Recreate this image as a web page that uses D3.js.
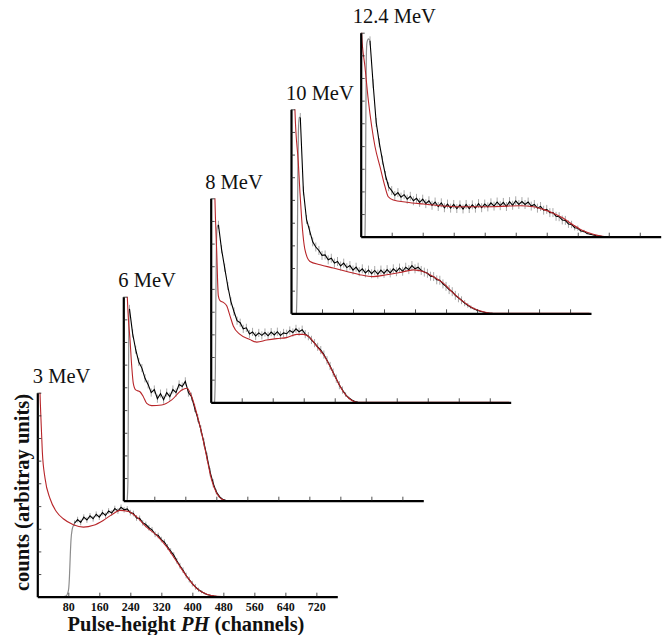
<!DOCTYPE html>
<html><head><meta charset="utf-8">
<script src="https://cdn.jsdelivr.net/npm/d3@7"></script>
<style>body{margin:0;background:#fff}svg{display:block}</style>
</head><body>
<svg id="c" width="667" height="635"></svg>
<script>
// ---------------- DATA ----------------
const energyLabels = ["3 MeV", "6 MeV", "8 MeV", "10 MeV", "12.4 MeV"];
const xTickValues = [80, 160, 240, 320, 400, 480, 560, 640, 720];
const yTickValues = [11.1, 22.2, 33.3, 44.4, 55.6, 66.7, 77.8, 88.9, 100];
const binStep = 8; // channels per plotted data bin

// simulated (red) response, [channel, counts]
const sim3 = [[4,130],[7,100],[9.5,87],[13,71],[20,58],[33,48],[50,41.5],[67,38.2],[93,35.3],[119,34.1],[145,35],[170,37.4],[196,40.7],[213,42.3],[235,41.8],[257,39],[282,34.1],[308,30.1],[334,24.4],[360,17.1],[386,9.8],[411,4.1],[437,1.2],[463,0.2],[490,0],[770,0]];
const sim6 = [[6,130],[10.3,100],[12.9,90],[17.3,79],[21.7,66],[25.8,57.5],[32,54.3],[43,53.4],[51.6,51],[60.4,47.7],[73,46.6],[99,46.9],[125,49.4],[151,54.3],[164,55.1],[176.5,51],[189.4,42.8],[202.3,33],[215,21.6],[228,10.1],[241,3.6],[254,0.7],[267,0],[770,0]];
const sim8 = [[8,130],[11,99],[15.5,74],[19.6,52.3],[24,49.8],[32.5,49],[41.3,47.3],[49.8,42.4],[58.3,37.4],[75.6,33.3],[101,30.8],[119,29.5],[144.5,30.5],[170,31.2],[196,31.7],[222,33.3],[239,33.3],[256,31.7],[273.5,27.5],[290.6,23.4],[308,17.6],[325,11],[342,5.2],[359.5,1.5],[377,0],[770,0]];
const sim10 = [[7,130],[10.3,99],[18.8,74],[23.2,59],[27.6,46],[36,31.2],[49,25.4],[75,23.8],[109,22.2],[144,20.5],[178,18.9],[212,18],[247,18.9],[281,20],[315.6,21.3],[341,20.5],[367,18],[393,14.8],[419,9.9],[444.6,5.7],[470,2.5],[496,0.8],[522,0],[770,0]];
const sim124 = [[1,125],[2.6,99],[11,83.3],[19.6,67],[28.4,54],[37,44.1],[49.8,34.3],[62.7,24.5],[71.2,19.6],[84,18],[118.7,16.9],[161.5,16],[204.6,15.2],[247.7,14.7],[290.6,14.7],[333.7,14.7],[376.8,15],[411,15.2],[445.4,14.7],[471,13.4],[497,11.5],[523,9],[548.6,5.7],[574.4,2.9],[600,1.2],[635,0],[770,0]];

// measured threshold rise (grey), [channel, counts]
const rise3 = [[68,0],[74,0.3],[78,1.5],[81,4],[83,10],[85,20],[87,28],[90,33],[94,35.2],[96,36]];
const rise6 = [[10,0],[12,10],[13,45],[14,80],[15,92],[16,94]];
const rise8 = [[10,0],[12,15],[13.5,55],[15,80],[17,86],[20,87]];
const rise10 = [[14,0],[16,20],[17.5,65],[19,88],[21,96],[24,96]];
const rise124 = [[11,0],[12.5,25],[13.5,65],[14.5,88],[16,95],[20,97],[24,96]];

// measured spectra (black), one value per 8-channel bin starting at expStart
const expStart = [96, 16, 20, 24, 24];
const exp3 = [36.0,37.8,36.4,39.0,37.6,39.6,38.2,40.4,39.0,41.2,39.8,42.0,41.0,43.2,42.0,43.8,42.6,43.0,41.2,40.8,38.6,38.4,36.2,35.4,33.8,32.8,30.6,30.0,28.0,26.8,24.4,22.4,20.4,17.6,15.2,13.0,10.4,8.4,6.4,4.8,3.4,2.4,1.6,1.0,0.6,0.3,0.1,0];
const exp6 = [94,82,74,68,65,60,57,53,54.5,50,52.5,49.5,53,51,54.5,53,57,56,58.5,53,51,45.5,40.5,35,28.5,21.5,14,8.5,4.3,2,0.7,0.2,0];
const exp8 = [87,75,66,57,49.5,44.5,40,39,36,36.5,33.5,34.5,32.5,34,32.8,34.2,32.6,34.4,33,34.6,32.8,34,33.6,35.2,34.2,36,34.6,35.6,33.4,32.4,30.6,29,27.2,25.6,23.4,20.6,17.8,14.6,11.6,8.4,6,3.8,2.2,1.1,0.4,0];
const exp10 = [96,60,46,40.5,35,32.5,30.8,28.4,28.6,26.2,27,24.6,25.4,23.2,24.6,22.4,23.4,21.2,22.6,20.4,21.8,19.8,21.2,19.4,21,19.2,21.2,19.6,21.4,19.8,21.8,20.4,22.2,20.6,22.6,21.4,23.4,21.8,22.6,21,20.2,19.6,18.2,18,16.4,16.2,14.4,13.2,11.6,10.6,8.8,7.6,6.4,5,3.9,3,2.2,1.5,1,0.6,0.3,0.1,0];
const exp124 = [96,75,56,46,37.5,30,24.5,22.6,20.2,21.6,19.4,20.6,18.4,19.8,17.6,18.8,16.8,18.4,16.2,17.6,15.4,17,14.8,16.6,14.2,16,14,15.8,13.8,15.6,13.6,15.8,13.8,15.6,14,16.2,14.2,16,14.6,16.6,15,17,15.2,16.8,14.8,17.2,15.4,17.6,15.8,17.2,15.8,17,15,15.8,14,14.8,13,13.4,11.8,11.8,10,9.8,8.2,8,6.2,6,4.4,4.2,2.8,2.6,1.6,1.2,0.8,0.5,0.3,0.1,0];
// statistical uncertainty (counts) per spectrum
const expErr = [1.4, 2.0, 2.0, 2.2, 2.2];

// ---------------- LAYOUT ----------------
const panels = [
  {sim: sim3, rise: rise3, exp: exp3},
  {sim: sim6, rise: rise6, exp: exp6},
  {sim: sim8, rise: rise8, exp: exp8},
  {sim: sim10, rise: rise10, exp: exp10},
  {sim: sim124, rise: rise124, exp: exp124}
];
const layout = [
  {left: 37.3, bottom: 596.7, lx: -4.5},
  {left: 123.3, bottom: 500.7, lx: -5},
  {left: 210.7, bottom: 402.3, lx: -5.5},
  {left: 291, bottom: 313.3, lx: -5},
  {left: 360.7, bottom: 236.7, lx: -8}
];
const PW = 300, PH = 204;
const SERIF = "'Liberation Serif','Times New Roman',serif";

const svg = d3.select("#c");
const defs = svg.append("defs");

panels.forEach((p, i) => {
  const L = layout[i];
  const x = d3.scaleLinear().domain([0, 774]).range([L.left, L.left + PW]);
  const y = d3.scaleLinear().domain([0, 100]).range([L.bottom, L.bottom - PH]);
  const g = svg.append("g");

  defs.append("clipPath").attr("id", "clip" + i)
    .append("rect").attr("x", L.left).attr("y", L.bottom - PH)
    .attr("width", PW).attr("height", PH);
  const plot = g.append("g").attr("clip-path", `url(#clip${i})`);

  const pts = p.exp.map((v, k) => [expStart[i] + k * binStep, v]);
  const e = expErr[i];

  const lineM = d3.line().x(d => x(d[0])).y(d => y(d[1])).curve(d3.curveMonotoneX);
  const lineL = d3.line().x(d => x(d[0])).y(d => y(d[1]));

  // grey statistical error bars
  plot.selectAll("line.err").data(pts.filter(d => d[1] > 0.5)).join("line")
    .attr("class", "err")
    .attr("x1", d => x(d[0])).attr("x2", d => x(d[0]))
    .attr("y1", d => y(d[1] + Math.min(e, d[1] * 0.3)))
    .attr("y2", d => y(d[1] - Math.min(e, d[1] * 0.3)))
    .attr("stroke", "#a8a8a8").attr("stroke-width", 1);

  plot.append("path").datum(p.rise).attr("d", lineM)
    .attr("fill", "none").attr("stroke", "#8c8c8c").attr("stroke-width", 1.2);
  plot.append("path").datum(pts).attr("d", lineL)
    .attr("fill", "none").attr("stroke", "#000").attr("stroke-width", 1.1);
  plot.append("path").datum(p.sim).attr("d", lineM)
    .attr("fill", "none").attr("stroke", "#b8262a").attr("stroke-width", 1.1);

  // axes
  const ax = d3.axisBottom(x).tickValues(xTickValues).tickSizeInner(-4).tickSizeOuter(0)
    .tickPadding(6).tickFormat(i === 0 ? d3.format("d") : () => "");
  const gx = g.append("g").attr("transform", `translate(0,${L.bottom})`).call(ax);
  const ay = d3.axisLeft(y).tickValues(yTickValues).tickSizeInner(-4).tickSizeOuter(0).tickFormat(() => "");
  const gy = g.append("g").attr("transform", `translate(${L.left},0)`).call(ay);
  [gx, gy].forEach(a => {
    a.select(".domain").attr("stroke", "#000").attr("stroke-width", 2.2);
    a.selectAll(".tick line").attr("stroke", "#222").attr("stroke-width", 0.8);
  });
  gx.selectAll("text").attr("font-family", SERIF).attr("font-weight", "bold")
    .attr("font-size", 12).attr("fill", "#111");
  if (i !== 0) gx.selectAll("text").remove();

  svg.append("text").attr("x", L.left + L.lx).attr("y", L.bottom - PH - 9.5)
    .attr("font-family", SERIF).attr("font-size", 20.5).attr("fill", "#111")
    .text(energyLabels[i]);
});

// axis titles
svg.append("text")
  .attr("transform", "translate(28.5,492.5) rotate(-90)")
  .attr("text-anchor", "middle").attr("font-family", SERIF).attr("font-weight", "bold")
  .attr("font-size", 20.5).attr("fill", "#111")
  .text("counts (arbitray units)");

const xt = svg.append("text").attr("x", 186).attr("y", 631)
  .attr("text-anchor", "middle").attr("font-family", SERIF).attr("font-weight", "bold")
  .attr("font-size", 20.5).attr("fill", "#111");
xt.append("tspan").text("Pulse-height ");
xt.append("tspan").attr("font-style", "italic").text("PH");
xt.append("tspan").text(" (channels)");
</script>
</body></html>
